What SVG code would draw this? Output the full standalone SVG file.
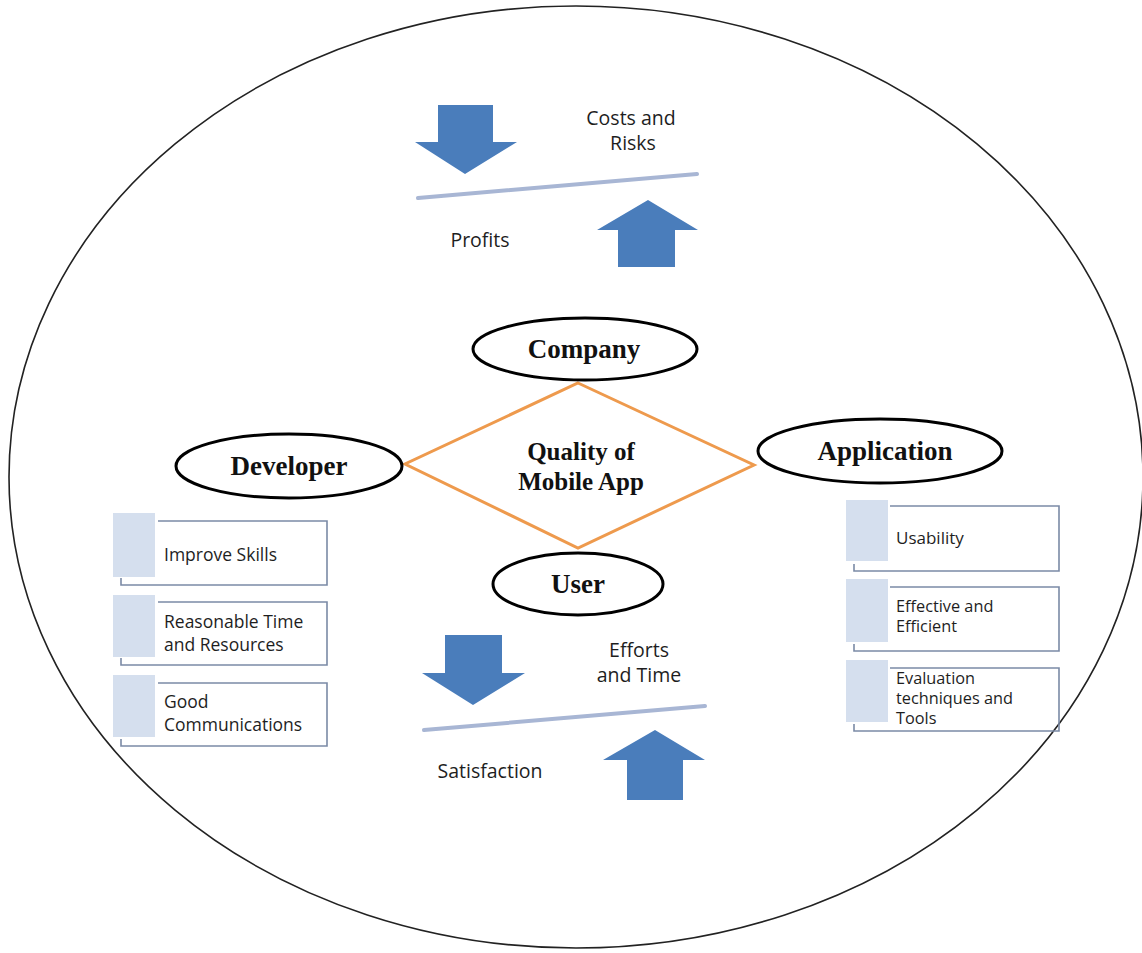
<svg xmlns="http://www.w3.org/2000/svg" width="1142" height="953" viewBox="0 0 1142 953">
  <style>
    .sans { font-family: "Open Sans", "Liberation Sans", sans-serif; fill: #1e1e1e; }
    .serif { font-family: "Liberation Serif", "Times New Roman", serif; font-weight: bold; fill: #111; }
    .node { fill: #fff; stroke: #000; stroke-width: 3; }
    .arrow { fill: #4a7dbb; }
    .beam { stroke: #a8b6d4; stroke-width: 4; stroke-linecap: round; }
    .tab { fill: #d5dfee; }
    .frame { fill: none; stroke: #7b8aa6; stroke-width: 1.6; }
  </style>

  <rect width="1142" height="953" fill="#fff"/>

  <!-- outer boundary -->
  <ellipse cx="576" cy="477" rx="567" ry="471" fill="none" stroke="#222" stroke-width="1.6"/>

  <!-- company balance: costs and risks vs profits -->
  <g id="company-balance">
    <polygon class="arrow" points="438,105 493,105 493,142 517,142 465,174 415,142 438,142"/>
    <line class="beam" x1="418" y1="198" x2="697" y2="174"/>
    <polygon class="arrow" points="648,200 698,230 675,230 675,267 618,267 618,230 597,230"/>
    <text class="sans" font-size="19.5" text-anchor="middle" x="631" y="125">Costs and</text>
    <text class="sans" font-size="19.5" text-anchor="middle" x="633" y="150">Risks</text>
    <text class="sans" font-size="19.5" text-anchor="middle" x="480" y="247">Profits</text>
  </g>

  <!-- user balance: efforts and time vs satisfaction -->
  <g id="user-balance">
    <polygon class="arrow" points="445,635 502,635 502,673 525,673 473,705 422,673 445,673"/>
    <line class="beam" x1="424" y1="730" x2="705" y2="706"/>
    <polygon class="arrow" points="655,730 705,760 683,760 683,800 627,800 627,760 603,760"/>
    <text class="sans" font-size="19.5" text-anchor="middle" x="639" y="657">Efforts</text>
    <text class="sans" font-size="19.5" text-anchor="middle" x="639" y="682">and Time</text>
    <text class="sans" font-size="19.5" text-anchor="middle" x="490" y="778">Satisfaction</text>
  </g>

  <!-- connectors: the quality diamond joining the four stakeholders -->
  <g id="connectors">
    <polygon points="578,383 754,465 578,548 405,464" fill="none" stroke="#ee9a4d" stroke-width="3"/>
  </g>

  <g id="quality">
    <text class="serif" font-size="25" text-anchor="middle" x="581" y="460">Quality of</text>
    <text class="serif" font-size="25" text-anchor="middle" x="581" y="490">Mobile App</text>
  </g>

  <g id="company">
    <ellipse class="node" cx="585" cy="349" rx="112" ry="31"/>
    <text class="serif" font-size="27" text-anchor="middle" x="584" y="358">Company</text>
  </g>

  <g id="developer">
    <ellipse class="node" cx="289" cy="466" rx="113" ry="32"/>
    <text class="serif" font-size="27" text-anchor="middle" x="289" y="475">Developer</text>
  </g>

  <g id="application">
    <ellipse class="node" cx="880" cy="451" rx="122" ry="32"/>
    <text class="serif" font-size="27" text-anchor="middle" x="885" y="460">Application</text>
  </g>

  <g id="user">
    <ellipse class="node" cx="578" cy="584" rx="85" ry="31"/>
    <text class="serif" font-size="27" text-anchor="middle" x="578" y="593">User</text>
  </g>

  <!-- developer factors -->
  <g id="improve-skills">
    <rect class="tab" x="113" y="513" width="42" height="64"/>
    <path class="frame" d="M158,521 H327 V585 H121 V578"/>
    <text class="sans" font-size="17.5" x="164" y="561">Improve Skills</text>
  </g>
  <g id="reasonable-time">
    <rect class="tab" x="113" y="595" width="42" height="62"/>
    <path class="frame" d="M158,602 H327 V665 H121 V658"/>
    <text class="sans" font-size="17.5" x="164" y="628">Reasonable Time</text>
    <text class="sans" font-size="17.5" x="164" y="651">and Resources</text>
  </g>
  <g id="good-communications">
    <rect class="tab" x="113" y="675" width="42" height="62"/>
    <path class="frame" d="M158,683 H327 V746 H121 V739"/>
    <text class="sans" font-size="17.5" x="164" y="708">Good</text>
    <text class="sans" font-size="17.5" x="164" y="731">Communications</text>
  </g>

  <!-- application factors -->
  <g id="usability">
    <rect class="tab" x="846" y="500" width="42" height="61"/>
    <path class="frame" d="M890,506 H1059 V571 H854 V564"/>
    <text class="sans" font-size="17" x="896" y="544">Usability</text>
  </g>
  <g id="effective-efficient">
    <rect class="tab" x="846" y="579" width="42" height="63"/>
    <path class="frame" d="M890,587 H1059 V651 H854 V644"/>
    <text class="sans" font-size="16.3" x="896" y="612">Effective and</text>
    <text class="sans" font-size="16.3" x="896" y="632">Efficient</text>
  </g>
  <g id="evaluation">
    <rect class="tab" x="846" y="660" width="42" height="62"/>
    <path class="frame" d="M890,668 H1059 V731 H854 V724"/>
    <text class="sans" font-size="16.3" x="896" y="684">Evaluation</text>
    <text class="sans" font-size="16.3" x="896" y="704">techniques and</text>
    <text class="sans" font-size="16.3" x="896" y="724">Tools</text>
  </g>
</svg>
